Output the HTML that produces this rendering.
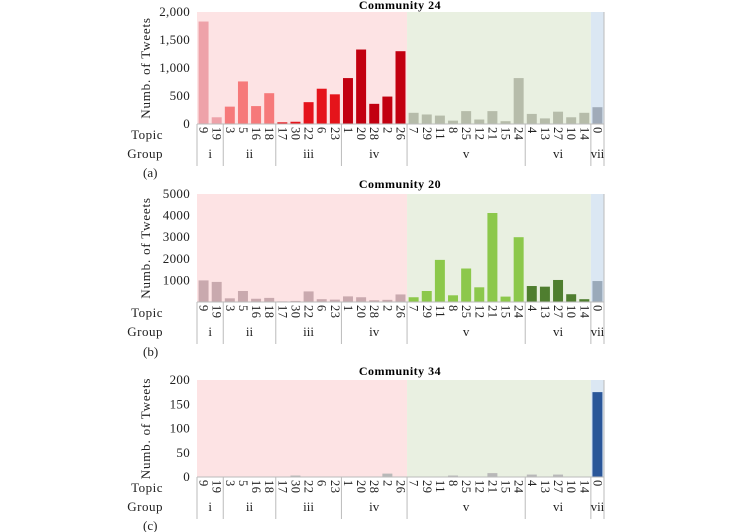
<!DOCTYPE html>
<html><head><meta charset="utf-8"><style>
body{margin:0;background:#fff;}
svg{display:block;font-family:"Liberation Serif",serif;}
</style></head><body>
<svg id="chart" width="750" height="532" viewBox="0 0 750 532" xmlns="http://www.w3.org/2000/svg"></svg>
<script>
const topics = ["9","19","3","5","16","18","17","30","22","6","23","1","20","28","2","26","7","29","11","8","25","12","21","15","24","4","13","27","10","14","0"];
const groupNames = ["i","ii","iii","iv","v","vi","vii"];
const groupSizes = [2,4,5,5,9,5,1];
const valuesA = [1830,120,310,760,320,550,30,40,390,630,530,820,1330,360,490,1300,200,170,150,60,230,80,230,50,820,180,100,220,120,200,300];
const valuesB = [1000,930,170,510,150,190,30,50,490,130,110,260,220,80,100,350,220,510,1950,310,1550,680,4120,250,3000,740,710,1020,360,130,970];
const valuesC = [0,0,0,0,0,0,0,3,0,0,0,0,0,0,7,0,0,0,0,3,0,0,8,0,0,5,1,5,0,0,175];
const ticksA = [0,500,1000,1500,2000];
const tickLabelsA = ["0","500","1,000","1,500","2,000"];
const ticksB = [1000,2000,3000,4000,5000];
const tickLabelsB = ["1000","2000","3000","4000","5000"];
const ticksC = [0,50,100,150,200];
const tickLabelsC = ["0","50","100","150","200"];

const NS="http://www.w3.org/2000/svg";
const svg=document.getElementById('chart');
function mk(tag,attrs,parent){const e=document.createElementNS(NS,tag);for(const k in attrs)e.setAttribute(k,attrs[k]);(parent||svg).appendChild(e);return e;}
const X0=197,X1=604,N=topics.length,slot=(X1-X0)/N;
function groupOf(i){let s=0;for(let g=0;g<groupSizes.length;g++){s+=groupSizes[g];if(i<s)return g;}return 6;}

function chart(cfg){
  const g=mk('g',{});
  
  
  const yScale=v=>cfg.y0-(v/cfg.max)*(cfg.y0-cfg.yTop);
  const bgCols=["#fde3e4","#e9f0e1","#dbe7f3"];
  const bgSpans=[[0,16],[16,30],[30,31]];
  bgSpans.forEach((s,k)=>{const r=mk('rect',{x:X0+s[0]*slot,y:cfg.yTop,width:(s[1]-s[0])*slot,height:cfg.y0-cfg.yTop,fill:bgCols[k]},g);
    });
  const t=mk('text',{x:400,y:cfg.titleY,'text-anchor':'middle','font-size':12,'font-weight':'bold','letter-spacing':0.5},g);t.textContent=cfg.title;
  
  cfg.ticks.forEach((v,k)=>{const tt=mk('text',{x:X0-7,y:yScale(v)+4,'text-anchor':'end','font-size':13,'letter-spacing':0.3,fill:'#222'},g);tt.textContent=cfg.tickLabels[k];
    });
  const yc=(cfg.y0+cfg.yTop)/2;
  const yt=mk('text',{x:0,y:0,transform:`translate(${cfg.yTitleX},${yc}) rotate(-90)`,'text-anchor':'middle','font-size':13,'letter-spacing':0.8,fill:'#222'},g);yt.textContent="Numb. of Tweets";
  
  cfg.values.forEach((v,i)=>{const y=yScale(v);const r=mk('rect',{x:X0+i*slot+slot*0.12,y:y,width:slot*0.76,height:cfg.y0-y,fill:cfg.colors[groupOf(i)]},g);
    });
  mk('line',{x1:X0,x2:X1,y1:cfg.y0,y2:cfg.y0,stroke:'#bbb','stroke-width':1},g);
  topics.forEach((tp,i)=>{const cx=X0+(i+0.5)*slot-4;const tl=mk('text',{x:0,y:0,transform:`translate(${cx},${cfg.y0+3}) rotate(90)`,'font-size':12.5,'letter-spacing':0.5,fill:'#222'},g);tl.textContent=tp;
    });
  const tl=mk('text',{x:163,y:cfg.topicY,'text-anchor':'end','font-size':13,'letter-spacing':0.5,fill:'#222'},g);tl.textContent="Topic";
  
  const gl=mk('text',{x:163,y:cfg.groupY,'text-anchor':'end','font-size':13,'letter-spacing':0.5,fill:'#222'},g);gl.textContent="Group";
  
  let s=0;
  mk('line',{x1:X0,x2:X0,y1:cfg.y0,y2:cfg.groupY+8,stroke:'#bbb'},g);
  groupSizes.forEach((n,k)=>{const a=X0+s*slot,b=X0+(s+n)*slot;s+=n;
    mk('line',{x1:b,x2:b,y1:(k==6?cfg.yTop:cfg.y0),y2:cfg.groupY+8,stroke:'#bbb'},g);
    const gt=mk('text',{x:(a+b)/2,y:cfg.groupY,'text-anchor':'middle','font-size':13,fill:'#222'},g);gt.textContent=groupNames[k];
    });
  const p=mk('text',{x:143,y:cfg.panelY,'font-size':13,fill:'#222'},g);p.textContent=cfg.panel;
  
}
chart({name:'chart-community-24',title:'Community 24',titleY:9,yTop:12,y0:124,max:2000,ticks:ticksA,tickLabels:tickLabelsA,values:valuesA,yTitleX:150,
  colors:["#eea2a9","#f6797a","#e5141b","#c20010","#b6bcaa","#b6bcaa","#a0abb9"],topicY:139,groupY:158,panel:'(a)',panelY:177});
chart({name:'chart-community-20',title:'Community 20',titleY:188,yTop:194,y0:302,max:5000,ticks:ticksB,tickLabels:tickLabelsB,values:valuesB,yTitleX:150,
  colors:["#c9a9ae","#c9a9ae","#c9a9ae","#c9a9ae","#8cc84b","#4f7e2f","#9aaaba"],topicY:317,groupY:336,panel:'(b)',panelY:356});
chart({name:'chart-community-34',title:'Community 34',titleY:375,yTop:380,y0:477,max:200,ticks:ticksC,tickLabels:tickLabelsC,values:valuesC,yTitleX:150,
  colors:["#b8b8b8","#b8b8b8","#b8b8b8","#b8b8b8","#b8b8b8","#b8b8b8","#2a5699"],topicY:492,groupY:511,panel:'(c)',panelY:530});
</script>
</body></html>
